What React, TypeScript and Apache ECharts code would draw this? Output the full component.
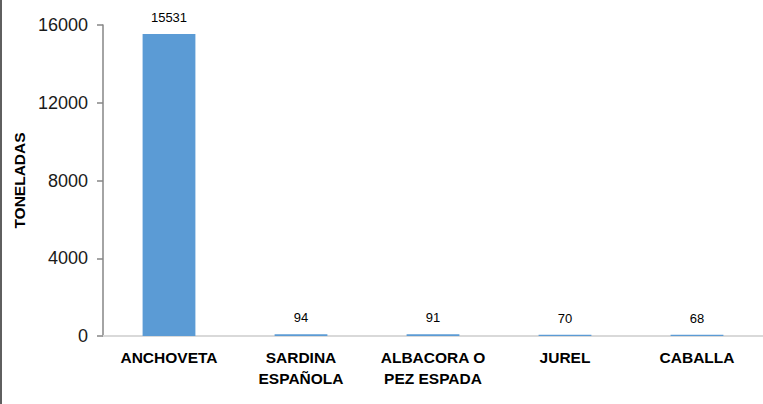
import React, { useEffect, useRef } from "react";
import * as echarts from "echarts";

const categories = ["ANCHOVETA", "SARDINA\nESPAÑOLA", "ALBACORA O\nPEZ ESPADA", "JUREL", "CABALLA"];
const values = [15531, 94, 91, 70, 68];
const yMin = 0;
const yMax = 16000;
const yInterval = 4000;
const yTitle = "TONELADAS";

export default function App() {
  const ref = useRef<HTMLDivElement>(null);
  useEffect(() => {
    if (!ref.current) return;
    const chart = echarts.init(ref.current, null, { renderer: "svg" });
    chart.setOption({
      animation: false,
      backgroundColor: "#ffffff",
      textStyle: { fontFamily: "Arial, 'Liberation Sans', sans-serif" },
      grid: { left: 103, right: 0, top: 25, bottom: 68, containLabel: false },
      xAxis: {
        type: "category",
        data: categories,
        axisLine: { lineStyle: { color: "#d9d9d9", width: 2 } },
        axisTick: { show: false },
        axisLabel: {
          color: "#000000",
          fontWeight: "bold",
          fontSize: 15.5,
          lineHeight: 21,
          margin: 11,
          interval: 0,
        },
      },
      yAxis: {
        type: "value",
        min: yMin,
        max: yMax,
        interval: yInterval,
        name: yTitle,
        nameLocation: "middle",
        nameGap: 75,
        nameRotate: 90,
        nameTextStyle: { color: "#000000", fontWeight: "bold", fontSize: 15.5 },
        axisLine: { show: true, lineStyle: { color: "#868686", width: 1.5 } },
        axisTick: { show: true, length: 6, lineStyle: { color: "#868686", width: 1.5 } },
        splitLine: { show: false },
        axisLabel: {
          color: "#1a1a1a",
          fontSize: 18,
          margin: 15,
          formatter: (v: number) => String(v),
        },
      },
      series: [
        {
          type: "bar",
          data: values,
          barWidth: "40%",
          itemStyle: { color: "#5b9bd5" },
          label: {
            show: true,
            position: "top",
            color: "#000000",
            fontSize: 13,
            distance: 10,
          },
        },
      ],
      graphic: [
        {
          type: "rect",
          shape: { x: 0, y: 0, width: 2, height: 404 },
          style: { fill: "#5f5f5f" },
        },
      ],
    });
    return () => chart.dispose();
  }, []);
  return (
    <div
      ref={ref}
      style={{ position: "fixed", left: 0, top: 0, width: 763, height: 404 }}
    />
  );
}
